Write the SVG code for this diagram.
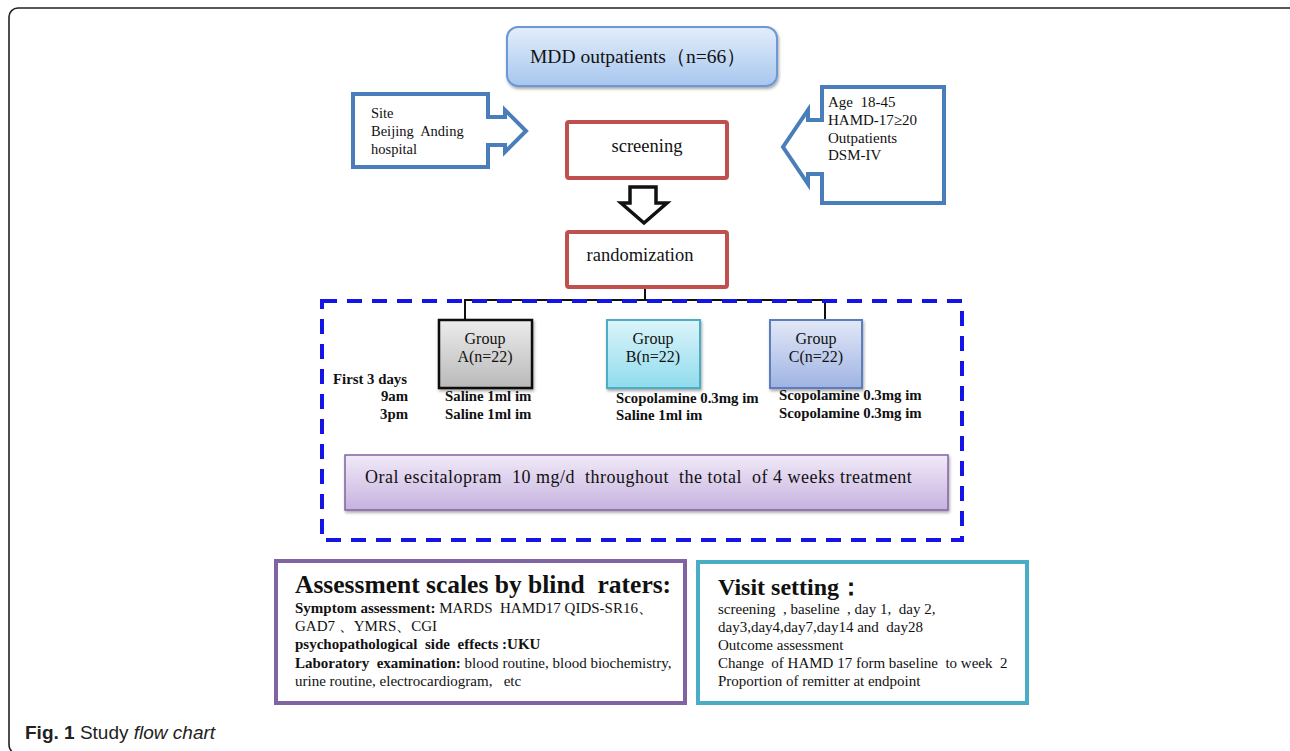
<svg xmlns="http://www.w3.org/2000/svg" width="1290" height="751" viewBox="0 0 1290 751">
<style>
text{white-space:pre}
.t{font-family:"Liberation Serif","Times New Roman",serif;fill:#111}
.b{font-weight:bold}
.red{fill:#fff;stroke:#c0504d;stroke-width:4}
.blue{fill:#fff;stroke:#4a7ebb;stroke-width:4;stroke-linejoin:miter}
.cap{font-family:"Liberation Sans",Arial,sans-serif;fill:#222;font-size:19px}
</style>
<defs>
<linearGradient id="gMDD" x1="0" y1="0" x2="0" y2="1"><stop offset="0" stop-color="#e3eefb"/><stop offset="1" stop-color="#a7c6ee"/></linearGradient>
<linearGradient id="gA" x1="0" y1="0" x2="0" y2="1"><stop offset="0" stop-color="#ececec"/><stop offset="1" stop-color="#b9b9b9"/></linearGradient>
<linearGradient id="gB" x1="0" y1="0" x2="0" y2="1"><stop offset="0" stop-color="#dcf4fa"/><stop offset="1" stop-color="#90dced"/></linearGradient>
<linearGradient id="gC" x1="0" y1="0" x2="0" y2="1"><stop offset="0" stop-color="#e2e8f7"/><stop offset="1" stop-color="#9fb3e3"/></linearGradient>
<linearGradient id="gO" x1="0" y1="0" x2="0" y2="1"><stop offset="0" stop-color="#f1eaf8"/><stop offset="1" stop-color="#c6b2df"/></linearGradient>
<filter id="sh" x="-10%" y="-10%" width="120%" height="130%"><feDropShadow dx="1" dy="2" stdDeviation="1.5" flood-color="#000" flood-opacity="0.35"/></filter>
</defs>
<rect x="9" y="8" width="1295" height="746" rx="9" fill="#fff" stroke="#222" stroke-width="1.6"/>

<g id="connectors" fill="none" stroke="#111" stroke-width="2">
<path d="M645,287 V300 M465,320 V300 H825 V320"/>
</g>
<rect id="dashed-frame" x="322" y="301" width="640" height="239" fill="none" stroke="#1414e6" stroke-width="4" stroke-dasharray="15,10"/>

<g id="mdd">
<rect x="507" y="27" width="270" height="59" rx="11" fill="url(#gMDD)" stroke="#6c98d6" stroke-width="2" filter="url(#sh)"/>
<text class="t" x="530" y="63" font-size="19.5">MDD outpatients（n=66）</text>
</g>

<g id="site">
<path class="blue" d="M353,94 H488 V117 H505 V110 L526,131 L505,152 V145 H488 V167 H353 Z"/>
<text class="t" x="371" y="118" font-size="14.5">Site</text>
<text class="t" x="371" y="136" font-size="14.5">Beijing  Anding</text>
<text class="t" x="371" y="154" font-size="14.5">hospital</text>
</g>

<g id="criteria">
<path class="blue" d="M944,87 H822 V120 H808 V110 L783,147 L808,184 V174 H822 V203 H944 Z"/>
<text class="t" x="828" y="107" font-size="15">Age  18-45</text>
<text class="t" x="828" y="125" font-size="15">HAMD-17≥20</text>
<text class="t" x="828" y="143" font-size="15">Outpatients</text>
<text class="t" x="828" y="160" font-size="15">DSM-IV</text>
</g>

<g id="screening">
<rect class="red" x="567" y="122" width="160" height="56" rx="2"/>
<text class="t" x="647" y="152" font-size="18.5" text-anchor="middle">screening</text>
</g>

<g id="down-arrow">
<path d="M630,187 H656 V203 H667 L644,223 L621,203 H630 Z" fill="#fff" stroke="#111" stroke-width="3.5" stroke-linejoin="miter"/>
</g>

<g id="randomization">
<rect class="red" x="567" y="232" width="160" height="55" rx="2"/>
<text class="t" x="640" y="261" font-size="18.5" text-anchor="middle">randomization</text>
</g>

<g id="groupA">
<rect x="439" y="320" width="93" height="68" fill="url(#gA)" stroke="#111" stroke-width="2.5" filter="url(#sh)"/>
<text class="t" x="485" y="344" font-size="16" text-anchor="middle">Group</text>
<text class="t" x="485" y="362" font-size="16" text-anchor="middle">A(n=22)</text>
</g>
<g id="groupB">
<rect x="607" y="320" width="93" height="68" fill="url(#gB)" stroke="#4bacc6" stroke-width="2" filter="url(#sh)"/>
<text class="t" x="653" y="344" font-size="16" text-anchor="middle">Group</text>
<text class="t" x="653" y="362" font-size="16" text-anchor="middle">B(n=22)</text>
</g>
<g id="groupC">
<rect x="770" y="320" width="92" height="68" fill="url(#gC)" stroke="#5b7dbf" stroke-width="2" filter="url(#sh)"/>
<text class="t" x="816" y="344" font-size="16" text-anchor="middle">Group</text>
<text class="t" x="816" y="362" font-size="16" text-anchor="middle">C(n=22)</text>
</g>

<g id="schedule" font-size="14.8">
<text class="t b" x="333" y="384">First 3 days</text>
<text class="t b" x="408" y="401" text-anchor="end">9am</text>
<text class="t b" x="408" y="419" text-anchor="end">3pm</text>
<text class="t b" x="445" y="401">Saline 1ml im</text>
<text class="t b" x="445" y="419">Saline 1ml im</text>
<text class="t b" x="616" y="403">Scopolamine 0.3mg im</text>
<text class="t b" x="616" y="420">Saline 1ml im</text>
<text class="t b" x="779" y="400">Scopolamine 0.3mg im</text>
<text class="t b" x="779" y="418">Scopolamine 0.3mg im</text>
</g>

<g id="oral">
<rect x="345" y="455" width="603" height="55" fill="url(#gO)" stroke="#8064a2" stroke-width="1.5" filter="url(#sh)"/>
<text class="t" x="365" y="483" font-size="18" letter-spacing="0.5">Oral escitalopram  10 mg/d  throughout  the total  of 4 weeks treatment</text>
</g>

<g id="assessment">
<rect x="276" y="561" width="409" height="142" fill="#fff" stroke="#8064a2" stroke-width="4"/>
<text class="t b" x="295" y="593" font-size="25.5">Assessment scales by blind  raters:</text>
<text class="t" x="295" y="613" font-size="15"><tspan class="b">Symptom assessment:</tspan> MARDS  HAMD17 QIDS-SR16、</text>
<text class="t" x="295" y="631" font-size="15">GAD7 、YMRS、CGI</text>
<text class="t b" x="295" y="649" font-size="15">psychopathological  side  effects :UKU</text>
<text class="t" x="295" y="668" font-size="15"><tspan class="b">Laboratory  examination:</tspan> blood routine, blood biochemistry,</text>
<text class="t" x="295" y="686" font-size="15">urine routine, electrocardiogram,   etc</text>
</g>

<g id="visit">
<rect x="698" y="562" width="329" height="141" fill="#fff" stroke="#4bacc6" stroke-width="4"/>
<text class="t b" x="718" y="595" font-size="24">Visit setting：</text>
<text class="t" x="718" y="614" font-size="15">screening  , baseline  , day 1,  day 2,</text>
<text class="t" x="718" y="632" font-size="15">day3,day4,day7,day14 and  day28</text>
<text class="t" x="718" y="650" font-size="15">Outcome assessment</text>
<text class="t" x="718" y="668" font-size="15">Change  of HAMD 17 form baseline  to week  2</text>
<text class="t" x="718" y="686" font-size="15">Proportion of remitter at endpoint</text>
</g>

<text class="cap" x="25" y="739"><tspan font-weight="bold">Fig. 1</tspan> Study <tspan font-style="italic">flow chart</tspan></text>
</svg>
